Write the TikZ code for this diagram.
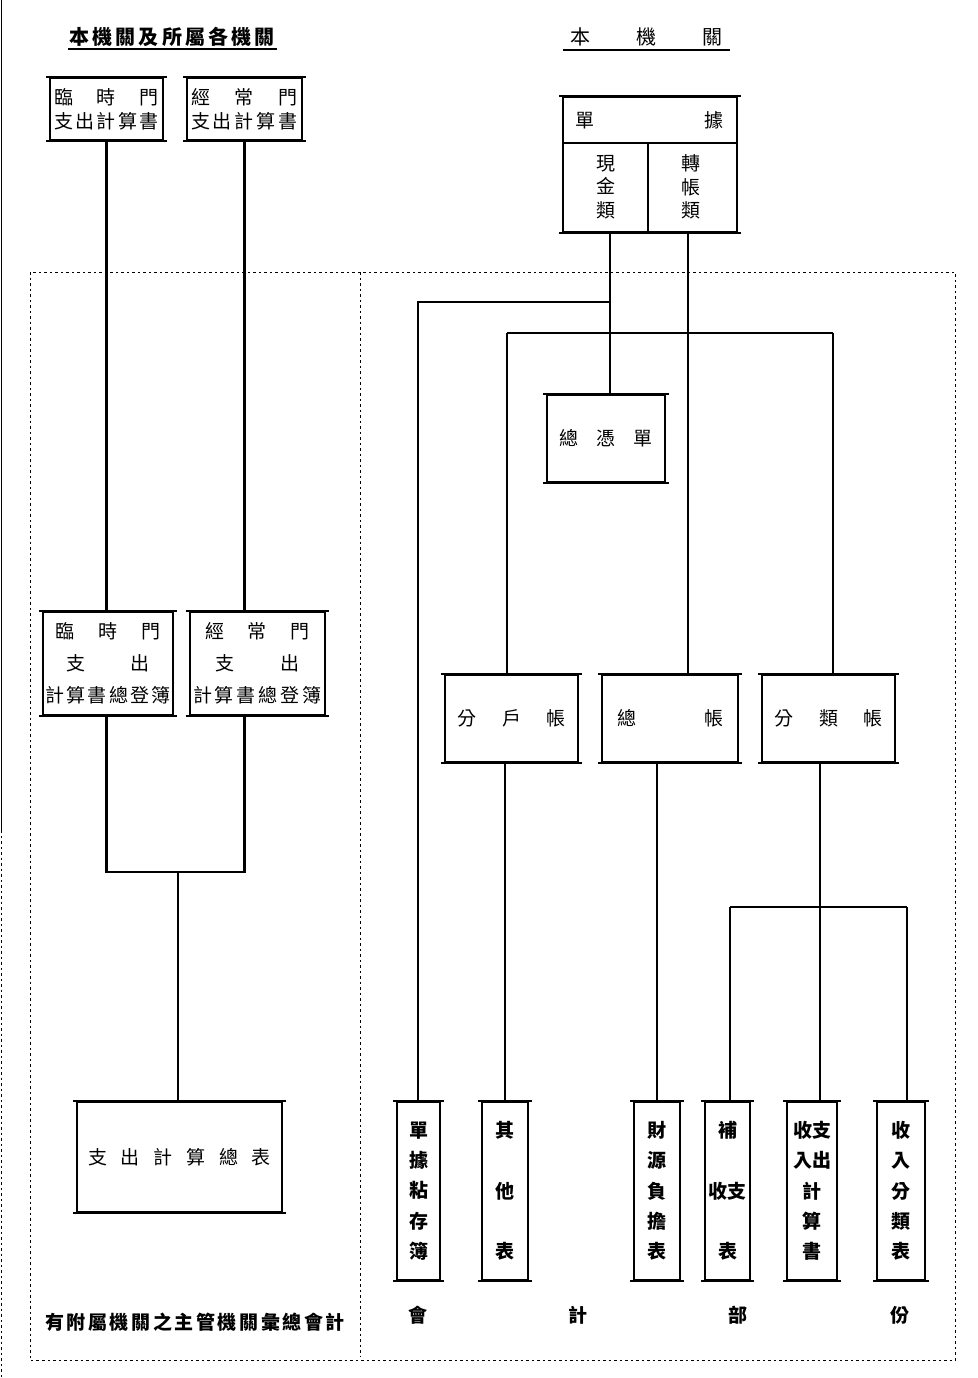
\documentclass[tikz,border=0pt]{standalone}
\usepackage{fontspec}
\newfontfamily\cjk{Noto Sans CJK TC}
\begin{document}
\begin{tikzpicture}[x=1pt,y=-1pt,
  box/.style={draw, line width=2pt, inner sep=0pt, align=center, font=\cjk\fontsize{19}{24}\selectfont},
  tall/.style={box, font=\cjk\bfseries\fontsize{19}{30.3}\selectfont},
  lbl/.style={inner sep=0pt, align=center, font=\cjk\fontsize{19}{23.5}\selectfont},
  cn/.style={line width=2.2pt},
  rulel/.style={line width=2.8pt},
  dsh/.style={line width=0.9pt, dash pattern=on 2.5pt off 3pt},
]
\useasboundingbox (0,0) rectangle (977,1378);
\fill[white] (0,0) rectangle (977,1378);
% page edge
\draw[line width=1pt] (1.5,0) -- (1.5,830);
\draw[dsh] (1.5,830) -- (1.5,1378);
% dashed frame
\draw[dsh] (30,272) rectangle (955,1360);
\draw[dsh] (360,272) -- (360,1356);

% titles
\node[lbl, font=\cjk\bfseries\fontsize{20}{23}\selectfont] (t1) at (172,37)
  {\makebox[205pt][s]{本\hfill 機\hfill 關\hfill 及\hfill 所\hfill 屬\hfill 各\hfill 機\hfill 關}};
\draw[line width=1.8pt] (68,49) -- (277,49);
\node[lbl, font=\cjk\fontsize{20}{23}\selectfont] (t2) at (646,37) {\makebox[152pt][s]{本\hfill 機\hfill 關}};
\draw[line width=1.8pt] (563,50) -- (730,50);

% top left boxes
\node[box, minimum width=113pt, minimum height=62pt] (tA) at (106.5,109)
  {\makebox[105pt][s]{臨\hfill 時\hfill 門}\\\makebox[105pt][s]{支\hfill 出\hfill 計\hfill 算\hfill 書}};
\node[box, minimum width=115pt, minimum height=62pt] (tB) at (244.5,109)
  {\makebox[107pt][s]{經\hfill 常\hfill 門}\\\makebox[107pt][s]{支\hfill 出\hfill 計\hfill 算\hfill 書}};

% 單據 box
\node[box, minimum width=174pt, minimum height=135pt] (dj) at (650,164.5) {};
\draw[line width=1.8pt] (dj.west |- 0,143) -- (dj.east |- 0,143);
\draw[line width=1.8pt] (648,143) -- (648,232);
\node[lbl] (dj1) at (649,120) {\makebox[148pt][s]{單\hfill 據}};
\node[lbl] (dj2) at (606,187) {現\\金\\類};
\node[lbl] (dj3) at (691,187) {轉\\帳\\類};

% 總憑單
\node[box, minimum width=118pt, minimum height=87pt] (zpd) at (606,438.5)
  {\makebox[93pt][s]{總\hfill 憑\hfill 單}};

% middle left boxes
\node[box, font=\cjk\fontsize{19}{32}\selectfont, minimum width=130pt, minimum height=103pt] (mA) at (108,663.5)
  {\makebox[105pt][s]{臨\hfill 時\hfill 門}\\\makebox[83pt][s]{支\hfill 出}\\\makebox[126pt][s]{計\hfill 算\hfill 書\hfill 總\hfill 登\hfill 簿}};
\node[box, font=\cjk\fontsize{19}{32}\selectfont, minimum width=135pt, minimum height=103pt] (mB) at (257.5,663.5)
  {\makebox[105pt][s]{經\hfill 常\hfill 門}\\\makebox[85pt][s]{支\hfill 出}\\\makebox[129pt][s]{計\hfill 算\hfill 書\hfill 總\hfill 登\hfill 簿}};

% ledgers
\node[box, minimum width=133pt, minimum height=87pt] (fh) at (511.5,718.5)
  {\makebox[108pt][s]{分\hfill 戶\hfill 帳}};
\node[box, minimum width=136pt, minimum height=87pt] (zz) at (670,718.5)
  {\makebox[106pt][s]{總\hfill 帳}};
\node[box, minimum width=133pt, minimum height=87pt] (fl) at (828.5,718.5)
  {\makebox[108pt][s]{分\hfill 類\hfill 帳}};

% 支出計算總表
\node[box, minimum width=205pt, minimum height=110pt] (zb) at (179.5,1157)
  {\makebox[183pt][s]{支\hfill 出\hfill 計\hfill 算\hfill 總\hfill 表}};

% bottom tall boxes
\node[tall, minimum width=43pt, minimum height=178pt] (b1) at (418.5,1191) {單\\據\\粘\\存\\簿};
\node[tall, minimum width=46pt, minimum height=178pt] (b2) at (505,1191) {其\\[30.3pt]他\\[30.3pt]表};
\node[tall, minimum width=46pt, minimum height=178pt] (b3) at (657,1191) {財\\源\\負\\擔\\表};
\node[tall, minimum width=45pt, minimum height=178pt] (b4) at (727.5,1191) {補\\[30.3pt]收支\\[30.3pt]表};
\node[tall, minimum width=50pt, minimum height=178pt] (b5) at (812,1191) {收支\\入出\\計\\算\\書};
\node[tall, minimum width=48pt, minimum height=178pt] (b6) at (901,1191) {收\\入\\分\\類\\表};

% thick top and bottom rules of boxes
\foreach \n in {tA,tB,dj,zpd,mA,mB,fh,zz,fl,zb,b1,b2,b3,b4,b5,b6}{
  \draw[rulel] ([xshift=-3pt]\n.north west) -- ([xshift=3pt]\n.north east);
  \draw[rulel] ([xshift=-3pt]\n.south west) -- ([xshift=3pt]\n.south east);
}

% bottom labels
\node[lbl, font=\cjk\bfseries\fontsize{19}{23}\selectfont] (L1) at (418,1315) {會};
\node[lbl, font=\cjk\bfseries\fontsize{19}{23}\selectfont] (L2) at (578,1315) {計};
\node[lbl, font=\cjk\bfseries\fontsize{19}{23}\selectfont] (L3) at (738,1315) {部};
\node[lbl, font=\cjk\bfseries\fontsize{19}{23}\selectfont] (L4) at (900,1315) {份};
\node[lbl, font=\cjk\bfseries\fontsize{19}{23}\selectfont] (L5) at (195,1322) {\makebox[300pt][s]{有\hfill 附\hfill 屬\hfill 機\hfill 關\hfill 之\hfill 主\hfill 管\hfill 機\hfill 關\hfill 彙\hfill 總\hfill 會\hfill 計}};

% connectors: left side
\draw[cn] (tA.south) -- (tA.south |- mA.north);
\draw[cn] (tB.south) -- (tB.south |- mB.north);
\coordinate (j6) at (178,872);
\draw[cn] (tA.south |- mA.south) -- (tA.south |- j6) -- (tB.south |- j6) -- (tB.south |- mB.south);
\draw[cn] (j6) -- (j6 |- zb.north);

% connectors: right side
\coordinate (kA) at (610,302);
\coordinate (kB) at (688,333);
\draw[cn] (dj.south -| kA) -- (zpd.north -| kA);
\draw[cn] (dj.south -| kB) -- (zz.north -| kB);
\coordinate (j2) at (418,302);
\draw[cn] (kA) -- (j2) -- (j2 |- b1.north);
\coordinate (j3) at (507,333);
\coordinate (j4) at (833,333);
\draw[cn] (j3) -- (j4);
\draw[cn] (j3) -- (j3 |- fh.north);
\draw[cn] (j4) -- (j4 |- fl.north);
\draw[cn] (b2.north |- fh.south) -- (b2.north);
\draw[cn] (b3.north |- zz.south) -- (b3.north);
\coordinate (j5) at (820,907);
\draw[cn] (j5 |- fl.south) -- (j5);
\coordinate (j7) at (730,907);
\coordinate (j8) at (907,907);
\draw[cn] (j7) -- (j8);
\draw[cn] (j7) -- (j7 |- b4.north);
\draw[cn] (j5) -- (j5 |- b5.north);
\draw[cn] (j8) -- (j8 |- b6.north);
\end{tikzpicture}
\end{document}
